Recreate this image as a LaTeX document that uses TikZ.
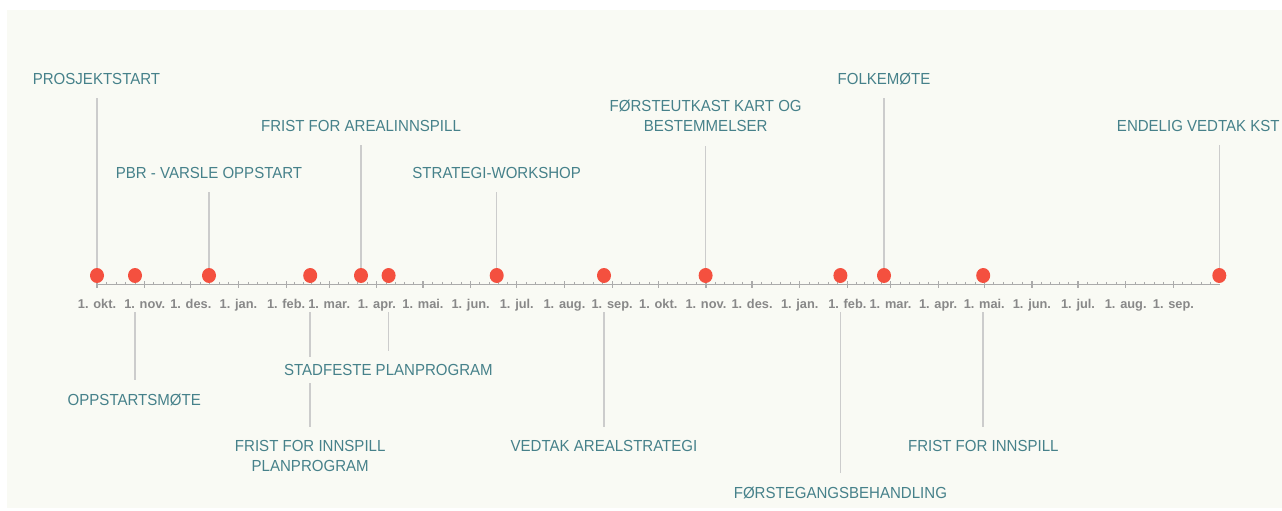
\documentclass[tikz,border=0pt]{standalone}
\usepackage{fontspec}
\setmainfont{Liberation Sans}
\newfontfamily\labfont[FakeStretch=0.94]{Liberation Sans}
\usetikzlibrary{shapes.geometric}
\definecolor{bgc}{HTML}{F9FAF4}
\definecolor{labc}{HTML}{46818A}
\definecolor{dotc}{HTML}{F4503F}
\definecolor{stemc}{HTML}{CCCCCC}
\definecolor{axisc}{HTML}{ABABAB}
\definecolor{monc}{HTML}{888888}
\pgfdeclarelayer{back}
\pgfsetlayers{back,main}
\begin{document}
\begin{tikzpicture}[x=1pt,y=-1pt,
  lab/.style={font=\labfont\fontsize{16}{20}\selectfont, text=labc, fill=bgc, align=center, inner xsep=2pt, inner ysep=7.3pt},
  mon/.style={font=\fontsize{12.8}{14}\selectfont\bfseries, text=monc, inner sep=0pt, anchor=base},
  dot/.style={ellipse, fill=dotc, minimum width=14pt, minimum height=15pt, inner sep=0pt},
  stem/.style={draw=stemc, line width=1.5pt},
  upstem/.style={stem, shorten >=6pt},
  downstem/.style={stem, shorten <=29pt, shorten >=6.5pt},
  axisline/.style={draw=axisc, line width=1.8pt},
  majtick/.style={draw=axisc, line width=1.2pt},
  mintick/.style={draw=axisc, line width=1pt}]
\useasboundingbox (0,0) rectangle (1282,511);
\begin{pgfonlayer}{back}
  \fill[white] (0,0) rectangle (1282,511);
  \fill[bgc] (7,10) rectangle (1282,508);
\end{pgfonlayer}

% axis
\coordinate (axL) at (97,284.5);
\coordinate (axR) at (1219.5,284.5);
\draw[axisline] (axL) -- (axR);
\foreach \a/\b in {0/31,31/61,61/92,92/123,123/151,151/182,182/212,212/243,243/273,273/304,304/335,335/365,365/396,396/426,426/457,457/488,488/516,516/547,547/577,577/608,608/638,638/669,669/700,700/730} {
  \draw[majtick] ({97+\a*1.5377},281) -- ({97+\a*1.5377},288);
  \foreach \k in {1,2,3,4}
    \draw[mintick] ({97+(\a+(\b-\a)*\k/5)*1.5377},281.8) -- ({97+(\a+(\b-\a)*\k/5)*1.5377},284.5);
}
\foreach \d/\m [count=\i] in {0/okt,31/nov,61/des,92/jan,123/feb,151/mar,182/apr,212/mai,243/jun,273/jul,304/aug,335/sep,365/okt,396/nov,426/des,457/jan,488/feb,516/mar,547/apr,577/mai,608/jun,638/jul,669/aug,700/sep}
  \node[mon] (mon\i) at ({97+\d*1.5377},308) {1. \m.};

% event dots
\node[dot] (d1) at (97,275.5) {};
\node[dot] (d2) at (135,275.5) {};
\node[dot] (d3) at (209,275.5) {};
\node[dot] (d4) at (310.2,275.5) {};
\node[dot] (d5) at (361,275.5) {};
\node[dot] (d6) at (388.6,275.5) {};
\node[dot] (d7) at (496.7,275.5) {};
\node[dot] (d8) at (604,275.5) {};
\node[dot] (d9) at (705.6,275.5) {};
\node[dot] (d10) at (840.4,275.5) {};
\node[dot] (d11) at (884,275.5) {};
\node[dot] (d12) at (983.2,275.5) {};
\node[dot] (d13) at (1219.3,275.5) {};

% labels above
\node[lab, anchor=south] (l1) at (96.5,92) {PROSJEKTSTART};
\node[lab, anchor=south] (l3) at (209,186) {PBR - VARSLE OPPSTART};
\node[lab, anchor=south] (l5) at (361,139) {FRIST FOR AREALINNSPILL};
\node[lab, anchor=south] (l7) at (496.7,186) {STRATEGI-WORKSHOP};
\node[lab, anchor=south] (l9) at (705.7,139.5) {FØRSTEUTKAST KART OG\\BESTEMMELSER};
\node[lab, anchor=south] (l11) at (884,92) {FOLKEMØTE};
\node[lab, anchor=south] (l13) at (1198.3,139) {ENDELIG VEDTAK KST};

% labels below
\node[lab, anchor=north] (l2) at (134.3,386.2) {OPPSTARTSMØTE};
\node[lab, anchor=north] (l4) at (310.2,433) {FRIST FOR INNSPILL\\PLANPROGRAM};
\node[lab, anchor=north] (l6) at (388.4,357.2) {STADFESTE PLANPROGRAM};
\node[lab, anchor=north] (l8) at (604,433) {VEDTAK AREALSTRATEGI};
\node[lab, anchor=north] (l10) at (840.4,479.2) {FØRSTEGANGSBEHANDLING};
\node[lab, anchor=north] (l12) at (983.3,433) {FRIST FOR INNSPILL};

% connectors
\begin{pgfonlayer}{back}
  \draw[upstem] (d1) -- (d1 |- l1.south);
  \draw[upstem] (d3) -- (d3 |- l3.south);
  \draw[upstem] (d5) -- (d5 |- l5.south);
  \draw[upstem] (d7) -- (d7 |- l7.south);
  \draw[upstem] (d9) -- (d9 |- l9.south);
  \draw[upstem] (d11) -- (d11 |- l11.south);
  \draw[upstem] (d13) -- (d13 |- l13.south);
  \draw[downstem] (d2) -- (d2 |- l2.north);
  \draw[downstem] (d4) -- (d4 |- l4.north);
  \draw[downstem] (d6) -- (d6 |- l6.north);
  \draw[downstem] (d8) -- (d8 |- l8.north);
  \draw[downstem] (d10) -- (d10 |- l10.north);
  \draw[downstem] (d12) -- (d12 |- l12.north);
\end{pgfonlayer}
\end{tikzpicture}
\end{document}
